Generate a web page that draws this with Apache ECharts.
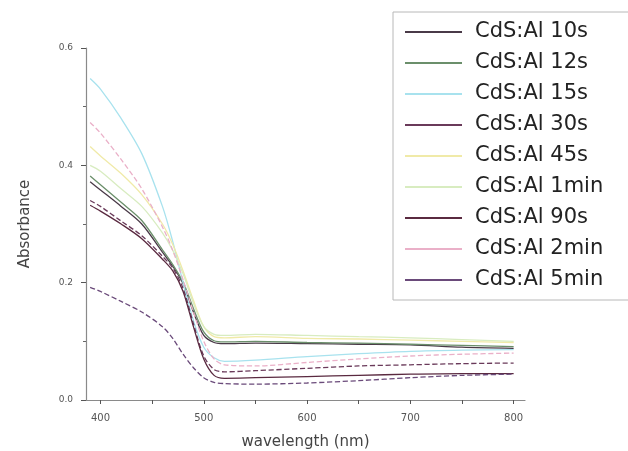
<!DOCTYPE html>
<html><head><meta charset="utf-8">
<script src="https://cdn.jsdelivr.net/npm/echarts@6/dist/echarts.min.js"></script>
<style>html,body{margin:0;padding:0;background:#fff}#c{width:628px;height:451px}</style>
</head><body><div id="c"></div>
<script>
const wavelengths = [390,400,420,440,460,470,480,490,500,510,520,550,600,650,700,750,800];
const names = ['CdS:Al 10s','CdS:Al 12s','CdS:Al 15s','CdS:Al 30s','CdS:Al 45s','CdS:Al 1min','CdS:Al 90s','CdS:Al 2min','CdS:Al 5min'];
const s10s  = [0.372,0.358,0.330,0.300,0.252,0.228,0.198,0.150,0.110,0.098,0.096,0.097,0.096,0.095,0.094,0.090,0.088];
const s12s  = [0.382,0.367,0.337,0.306,0.256,0.231,0.201,0.156,0.116,0.101,0.099,0.100,0.098,0.097,0.095,0.093,0.091];
const s15s  = [0.548,0.530,0.480,0.420,0.330,0.270,0.200,0.135,0.090,0.072,0.066,0.068,0.074,0.079,0.083,0.085,0.086];
const s30s  = [0.340,0.330,0.305,0.280,0.245,0.225,0.190,0.130,0.075,0.052,0.048,0.050,0.054,0.058,0.060,0.062,0.063];
const s45s  = [0.432,0.416,0.386,0.350,0.300,0.265,0.220,0.170,0.125,0.108,0.106,0.108,0.105,0.104,0.102,0.100,0.098];
const s1min = [0.400,0.390,0.360,0.330,0.285,0.255,0.215,0.165,0.125,0.112,0.110,0.112,0.110,0.108,0.106,0.103,0.100];
const s90s  = [0.332,0.322,0.300,0.275,0.240,0.220,0.185,0.125,0.070,0.042,0.037,0.038,0.040,0.042,0.044,0.045,0.045];
const s2min = [0.473,0.455,0.410,0.360,0.295,0.255,0.205,0.150,0.100,0.070,0.060,0.058,0.064,0.070,0.075,0.078,0.080];
const s5min = [0.192,0.185,0.168,0.150,0.125,0.105,0.078,0.055,0.038,0.030,0.028,0.027,0.029,0.033,0.038,0.042,0.044];
const seriesValues = [s10s,s12s,s15s,s30s,s45s,s1min,s90s,s2min,s5min];
const xMajorTicks = [400,500,600,700,800];
const xAllTicks = [400,450,500,550,600,650,700,750,800];

const colors = ['#4a3a48','#6b8f6b','#a8e2ee','#6a3a5a','#f0eaa8','#d8ecc0','#5a2a40','#eab0c8','#6a4a7a'];
const dashes = ['solid','solid','solid','dashed','solid','solid','solid','dashed','dashed'];

const chart = echarts.init(document.getElementById('c'), null, {renderer:'canvas'});
const axisCol = '#8a8a8a';
chart.setOption({
  animation:false,
  backgroundColor:'#fff',
  color: colors,
  grid:{left:86,right:103,top:48,bottom:51,containLabel:false,outerBoundsMode:'none'},
  legend:{
    orient:'vertical', left:393, top:12,
    padding:[9,80,9,12],
    borderColor:'#b8b8b8', borderWidth:1,
    itemWidth:57, itemHeight:2, itemGap:9,
    icon:'rect',
    textStyle:{fontFamily:'DejaVu Sans', fontSize:21, color:'#222', padding:[0,0,0,8], lineHeight:22},
    data: names
  },
  xAxis:{
    type:'value', min:386, max:811,
    name:'wavelength (nm)', nameLocation:'middle', nameGap:35,
    nameTextStyle:{fontFamily:'DejaVu Sans', fontSize:15, color:'#444'},
    axisLine:{lineStyle:{color:axisCol, width:1.2}},
    axisTick:{show:true, customValues:xAllTicks, length:4, lineStyle:{color:'#555'}},
    axisLabel:{customValues:xMajorTicks, color:'#555', fontSize:10, fontFamily:'DejaVu Sans', margin:13},
    splitLine:{show:false}
  },
  yAxis:{
    type:'value', min:0, max:0.6, interval:0.2,
    name:'Absorbance', nameLocation:'middle', nameGap:53,
    nameTextStyle:{fontFamily:'DejaVu Sans', fontSize:15, color:'#444'},
    axisLine:{show:true, lineStyle:{color:axisCol, width:1.2}},
    axisTick:{show:true, length:5, lineStyle:{color:'#555'}},
    minorTick:{show:true, splitNumber:2, length:3, lineStyle:{color:'#666'}},
    axisLabel:{color:'#555', fontSize:9, fontFamily:'DejaVu Sans', margin:13, formatter:v=>v.toFixed(1)},
    splitLine:{show:false}
  },
  series: names.map((n,i)=>({
    name:n, type:'line', smooth:0.3, showSymbol:false, symbol:'none',
    data: wavelengths.map((w,j)=>[w, seriesValues[i][j]]),
    lineStyle:{width:1.3, color:colors[i], type:dashes[i]},
    itemStyle:{color:colors[i]}
  }))
});
</script></body></html>
